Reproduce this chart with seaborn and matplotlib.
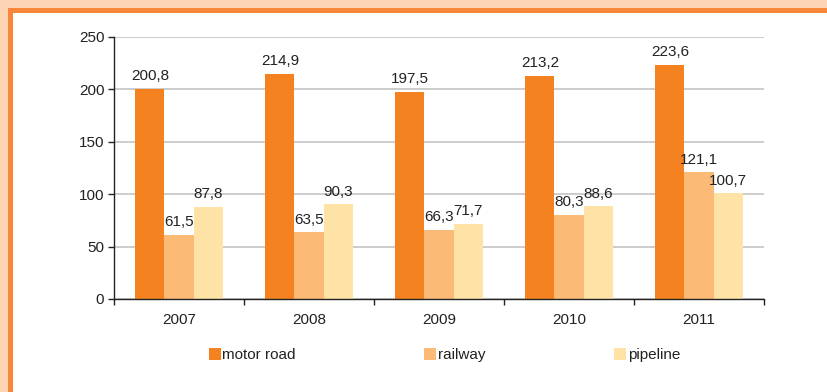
import matplotlib
matplotlib.use("Agg")
import matplotlib.pyplot as plt
from matplotlib.patches import Rectangle
import seaborn as sns
import pandas as pd

years = ["2007", "2008", "2009", "2010", "2011"]
motor_road = [200.8, 214.9, 197.5, 213.2, 223.6]
railway = [61.5, 63.5, 66.3, 80.3, 121.1]
pipeline = [87.8, 90.3, 71.7, 88.6, 100.7]
series_names = ["motor road", "railway", "pipeline"]
y_ticks = [0, 50, 100, 150, 200, 250]

colors = ["#F58220", "#FBBA75", "#FEE2A6"]

df = pd.DataFrame({
    "year": years * 3,
    "mode": [series_names[0]] * 5 + [series_names[1]] * 5 + [series_names[2]] * 5,
    "value": motor_road + railway + pipeline,
})

sns.set_theme(style="white")
plt.rcParams["font.family"] = ["Liberation Sans", "DejaVu Sans"]

FS = 11
TXT = "#222222"
W, H = 828, 392
fig = plt.figure(figsize=(W / 100, H / 100), dpi=100)
fig.patch.set_facecolor("#FDD4B3")
# orange frame and white panel behind the chart
fig.patches.append(Rectangle((8 / W, 0), 1, 1 - 8 / H, transform=fig.transFigure,
                             facecolor="#F7873A", edgecolor="none", zorder=-10))
fig.patches.append(Rectangle((13 / W, 0), 1, 1 - 13 / H, transform=fig.transFigure,
                             facecolor="white", edgecolor="none", zorder=-9))

ax = fig.add_axes([114 / W, 1 - 299 / H, 650 / W, 262 / H])
ax.set_facecolor("none")

sns.barplot(data=df, x="year", y="value", hue="mode", palette=colors,
            width=0.67, gap=0, saturation=1, linewidth=0, ax=ax, legend=True)

for cont in ax.containers:
    ax.bar_label(cont, labels=[f"{v:.1f}".replace(".", ",") for v in cont.datavalues],
                 padding=4, fontsize=FS, color=TXT)

ax.set_ylim(0, 250)
ax.set_xlim(-0.5, 4.5)
ax.set_yticks(y_ticks)
ax.yaxis.grid(True, color="#C8C8C8", linewidth=1.3)
ax.set_axisbelow(True)
ax.set_xlabel("")
ax.set_ylabel("")

for s in ["top", "right"]:
    ax.spines[s].set_visible(False)
for s in ["left", "bottom"]:
    ax.spines[s].set_color(TXT)
    ax.spines[s].set_linewidth(1.0)

ax.tick_params(axis="y", left=True, length=4, width=1, color=TXT,
               labelsize=FS, labelcolor=TXT, pad=3)
ax.tick_params(axis="x", bottom=False, labelsize=FS, labelcolor=TXT, pad=4)
ax.set_xticks([-0.5, 0.5, 1.5, 2.5, 3.5, 4.5], minor=True)
ax.tick_params(axis="x", which="minor", bottom=True, length=4, width=1, color=TXT)

handles, labels = ax.get_legend_handles_labels()
ax.legend_.remove()
fig.legend(handles, labels, loc="center left", bbox_to_anchor=(201 / W, 1 - 355 / H),
           ncol=3, frameon=False, fontsize=FS, handlelength=0.8, handleheight=0.8,
           handletextpad=0.1, columnspacing=8.4, borderpad=0, labelcolor=TXT)

fig.savefig("out.png", dpi=100, facecolor=fig.get_facecolor())
